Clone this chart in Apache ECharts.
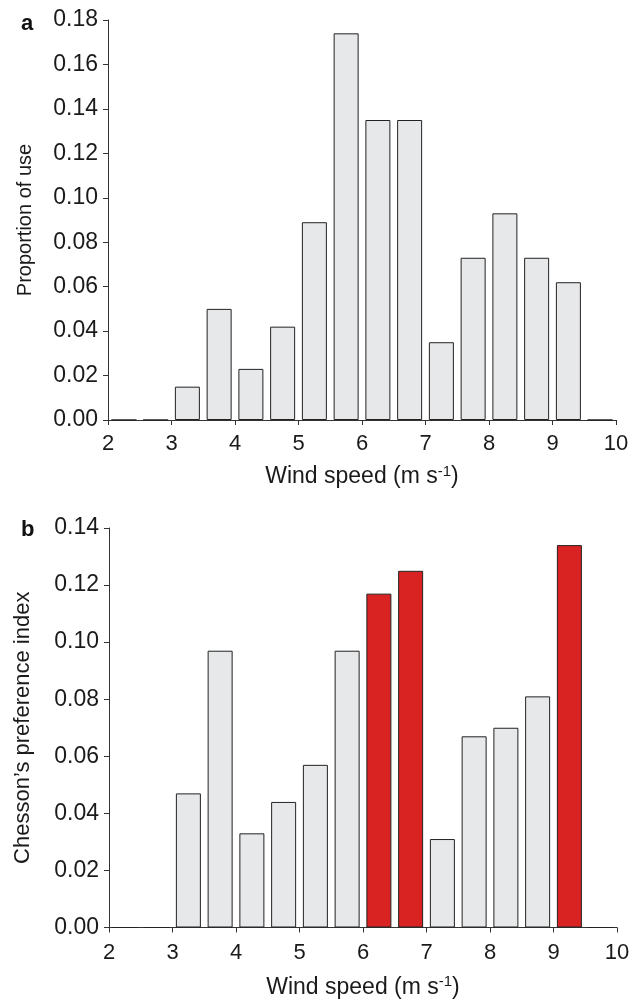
<!DOCTYPE html>
<html>
<head>
<meta charset="utf-8">
<script src="https://cdn.jsdelivr.net/npm/echarts@6/dist/echarts.min.js"></script>
<style>
  html, body { margin: 0; padding: 0; background: #fff; }
  #chart { width: 641px; height: 1000px; }
</style>
</head>
<body>
<div id="chart"></div>
<script>
// bin centres (wind speed, m/s), bins are 0.5 wide
const binCenters = [2.25, 2.75, 3.25, 3.75, 4.25, 4.75, 5.25, 5.75, 6.25, 6.75, 7.25, 7.75, 8.25, 8.75, 9.25, 9.75]
// panel a: proportion of use
const useValues = [0, 0, 0.015, 0.050, 0.023, 0.042, 0.089, 0.174, 0.135, 0.135, 0.035, 0.073, 0.093, 0.073, 0.062, 0]
// panel b: Chesson's preference index
const prefValues = [0, 0, 0.047, 0.097, 0.033, 0.044, 0.057, 0.097, 0.117, 0.125, 0.031, 0.067, 0.070, 0.081, 0.134, 0]
// bins drawn in red in panel b
const preferredBins = [6.25, 6.75, 9.25]
const xTicks = [2, 3, 4, 5, 6, 7, 8, 9, 10]

const font = 'Liberation Sans, Arial, Helvetica, sans-serif'
const ink = '#1a1a1a'
const grey = '#e7e8ea'
const red = '#d92323'

const chart = echarts.init(document.getElementById('chart'))

// 公共的x轴样式
function xAxisOf (gridIndex, labelMargin, nameGap) {
  return {
    type: 'value',
    gridIndex: gridIndex,
    min: xTicks[0],
    max: xTicks[xTicks.length - 1],
    interval: 1,
    name: '{n|Wind speed (m s}{s|-1}{n|)}',
    nameLocation: 'middle',
    nameGap: nameGap,
    nameTextStyle: {
      rich: {
        n: { fontSize: 23, fontFamily: font, color: ink, lineHeight: 26 },
        s: { fontSize: 15, fontFamily: font, color: ink, verticalAlign: 'top', lineHeight: 26 }
      }
    },
    axisLine: { lineStyle: { color: '#333', width: 1 } },
    axisTick: { length: 5, lineStyle: { color: '#333' } },
    axisLabel: { fontSize: 22, fontFamily: font, color: ink, margin: labelMargin },
    splitLine: { show: false }
  }
}

// y轴: 名称字号两张图略有不同
function yAxisOf (gridIndex, max, name, nameSize, nameGap) {
  return {
    type: 'value',
    gridIndex: gridIndex,
    min: 0,
    max: max,
    interval: 0.02,
    name: name,
    nameLocation: 'middle',
    nameGap: nameGap,
    nameTextStyle: { fontSize: nameSize, fontFamily: font, color: ink },
    axisLine: { show: true, lineStyle: { color: '#333', width: 1 } },
    axisTick: { show: true, length: 5, lineStyle: { color: '#333' } },
    axisLabel: {
      fontSize: 23,
      fontFamily: font,
      color: ink,
      margin: 10,
      formatter: v => v.toFixed(2)
    },
    splitLine: { show: false }
  }
}

const barStyle = { borderColor: '#222', borderWidth: 1 }

const useData = binCenters.map((x, i) => [x, useValues[i]])
const prefData = binCenters.map((x, i) => ({
  value: [x, prefValues[i]],
  itemStyle: { color: preferredBins.includes(x) ? red : grey }
}))

const panelLabel = { fontSize: 22, fontWeight: 'bold', fontFamily: font, color: '#111' }

const option = {
  backgroundColor: '#fff',
  animation: false,
  title: [
    { text: 'a', left: 16, top: 8, textStyle: panelLabel },
    { text: 'b', left: 16, top: 514, textStyle: panelLabel }
  ],
  grid: [
    { left: 108, right: 25, top: 20, height: 400 },
    { left: 109, right: 24, top: 528, height: 400 }
  ],
  xAxis: [xAxisOf(0, 13, 44), xAxisOf(1, 14, 47)],
  yAxis: [
    yAxisOf(0, 0.18, 'Proportion of use', 20, 73),
    yAxisOf(1, 0.14, 'Chesson\u2019s preference index', 22, 75)
  ],
  series: [
    {
      type: 'bar',
      xAxisIndex: 0,
      yAxisIndex: 0,
      barWidth: 25,
      itemStyle: Object.assign({ color: grey }, barStyle),
      data: useData
    },
    {
      type: 'bar',
      xAxisIndex: 1,
      yAxisIndex: 1,
      barWidth: 25,
      itemStyle: barStyle,
      data: prefData
    }
  ]
}

chart.setOption(option)
</script>
</body>
</html>
